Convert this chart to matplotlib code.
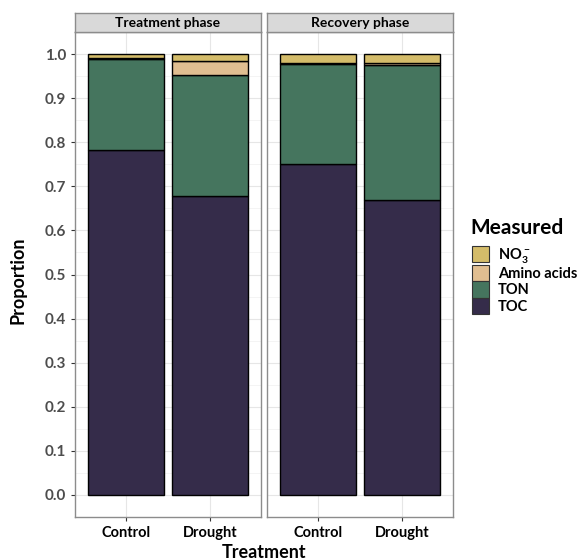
import matplotlib
matplotlib.use('Agg')
import matplotlib.pyplot as plt
from matplotlib.patches import Patch
import numpy as np

phases = ['Treatment phase', 'Recovery phase']
treatments = ['Control', 'Drought']
# proportions per phase: [Control, Drought]
toc = [[0.782, 0.677], [0.751, 0.669]]
ton = [[0.206, 0.276], [0.227, 0.307]]
amino = [[0.003, 0.031], [0.002, 0.003]]
no3 = [[0.009, 0.016], [0.020, 0.021]]
measured = ['TOC', 'TON', 'Amino acids', 'NO$_3^-$']
colors = ['#352c4a', '#45755e', '#e0be91', '#d4bc6a']

plt.rcParams['font.family'] = ['Lato', 'DejaVu Sans']
plt.rcParams['font.weight'] = 'bold'
plt.rcParams['mathtext.fontset'] = 'custom'
plt.rcParams['mathtext.rm'] = 'Lato:bold'
plt.rcParams['mathtext.bf'] = 'Lato:bold'
plt.rcParams['mathtext.default'] = 'rm'

fig = plt.figure(figsize=(5.8, 5.59), dpi=100)
W, H = 580, 559
lefts = [75, 267]
pw = 186
ptop, pbot = 32, 517

x = np.arange(1, len(treatments) + 1)
for i, phase in enumerate(phases):
    ax = fig.add_axes([lefts[i] / W, 1 - pbot / H, pw / W, (pbot - ptop) / H])
    series = [toc[i], ton[i], amino[i], no3[i]]
    bottom = np.zeros(len(treatments))
    for vals, c in zip(series, colors):
        ax.bar(x, vals, width=0.9, bottom=bottom, color=c, edgecolor='black',
               linewidth=1.0, zorder=3)
        bottom += np.array(vals)
    ax.set_xlim(0.4, 2.6)
    ax.set_ylim(-0.05, 1.05)
    ax.set_xticks(x)
    ax.set_xticklabels(treatments, fontsize=10.5, color='black')
    ax.set_yticks(np.arange(0, 1.01, 0.1))
    ax.set_yticks(np.arange(0.05, 1.0, 0.1), minor=True)
    ax.set_xticks([1.5], minor=True)
    ax.grid(which='major', color='#e6e6e6', linewidth=0.8, zorder=0)
    ax.grid(which='minor', axis='y', color='#f0f0f0', linewidth=0.5, zorder=0)
    ax.tick_params(axis='x', which='minor', length=0)
    ax.tick_params(axis='y', which='minor', length=0)
    ax.tick_params(axis='both', which='major', length=3, color='#333333')
    ax.grid(which='minor', axis='x', visible=False)
    if i == 0:
        ax.set_yticklabels(['%.1f' % v for v in np.arange(0, 1.01, 0.1)],
                           fontsize=11, color='#4d4d4d')
    else:
        ax.tick_params(axis='y', labelleft=False, length=0)
    for s in ax.spines.values():
        s.set_color('#8c8c8c')
        s.set_linewidth(1.0)
    # strip
    sax = fig.add_axes([lefts[i] / W, 1 - ptop / H, pw / W, 19 / H])
    sax.set_facecolor('#d9d9d9')
    sax.set_xticks([])
    sax.set_yticks([])
    for s in sax.spines.values():
        s.set_color('#8c8c8c')
        s.set_linewidth(1.0)
    sax.text(0.5, 0.45, phase, ha='center', va='center', fontsize=10,
             fontweight='bold', transform=sax.transAxes)

fig.text(18 / W, 1 - 280 / H, 'Proportion', rotation=90, ha='center',
         va='center', fontsize=13, fontweight='bold')
fig.text(264 / W, 1 - 552 / H, 'Treatment', ha='center', va='center',
         fontsize=13, fontweight='bold')

fig.text(470 / W, 1 - 228 / H, 'Measured', ha='left', va='center',
         fontsize=15, fontweight='bold')
handles = [Patch(facecolor=c, edgecolor='#333333', linewidth=0.8)
           for c in colors[::-1]]
leg = fig.legend(handles, measured[::-1],
                 loc='upper left', bbox_to_anchor=(472 / W, 1 - 246 / H),
                 frameon=False, fontsize=10.5, borderpad=0,
                 handlelength=1.17, handleheight=1.35, handletextpad=0.6,
                 labelspacing=0.0, borderaxespad=0)

plt.savefig('out.png', dpi=100)
